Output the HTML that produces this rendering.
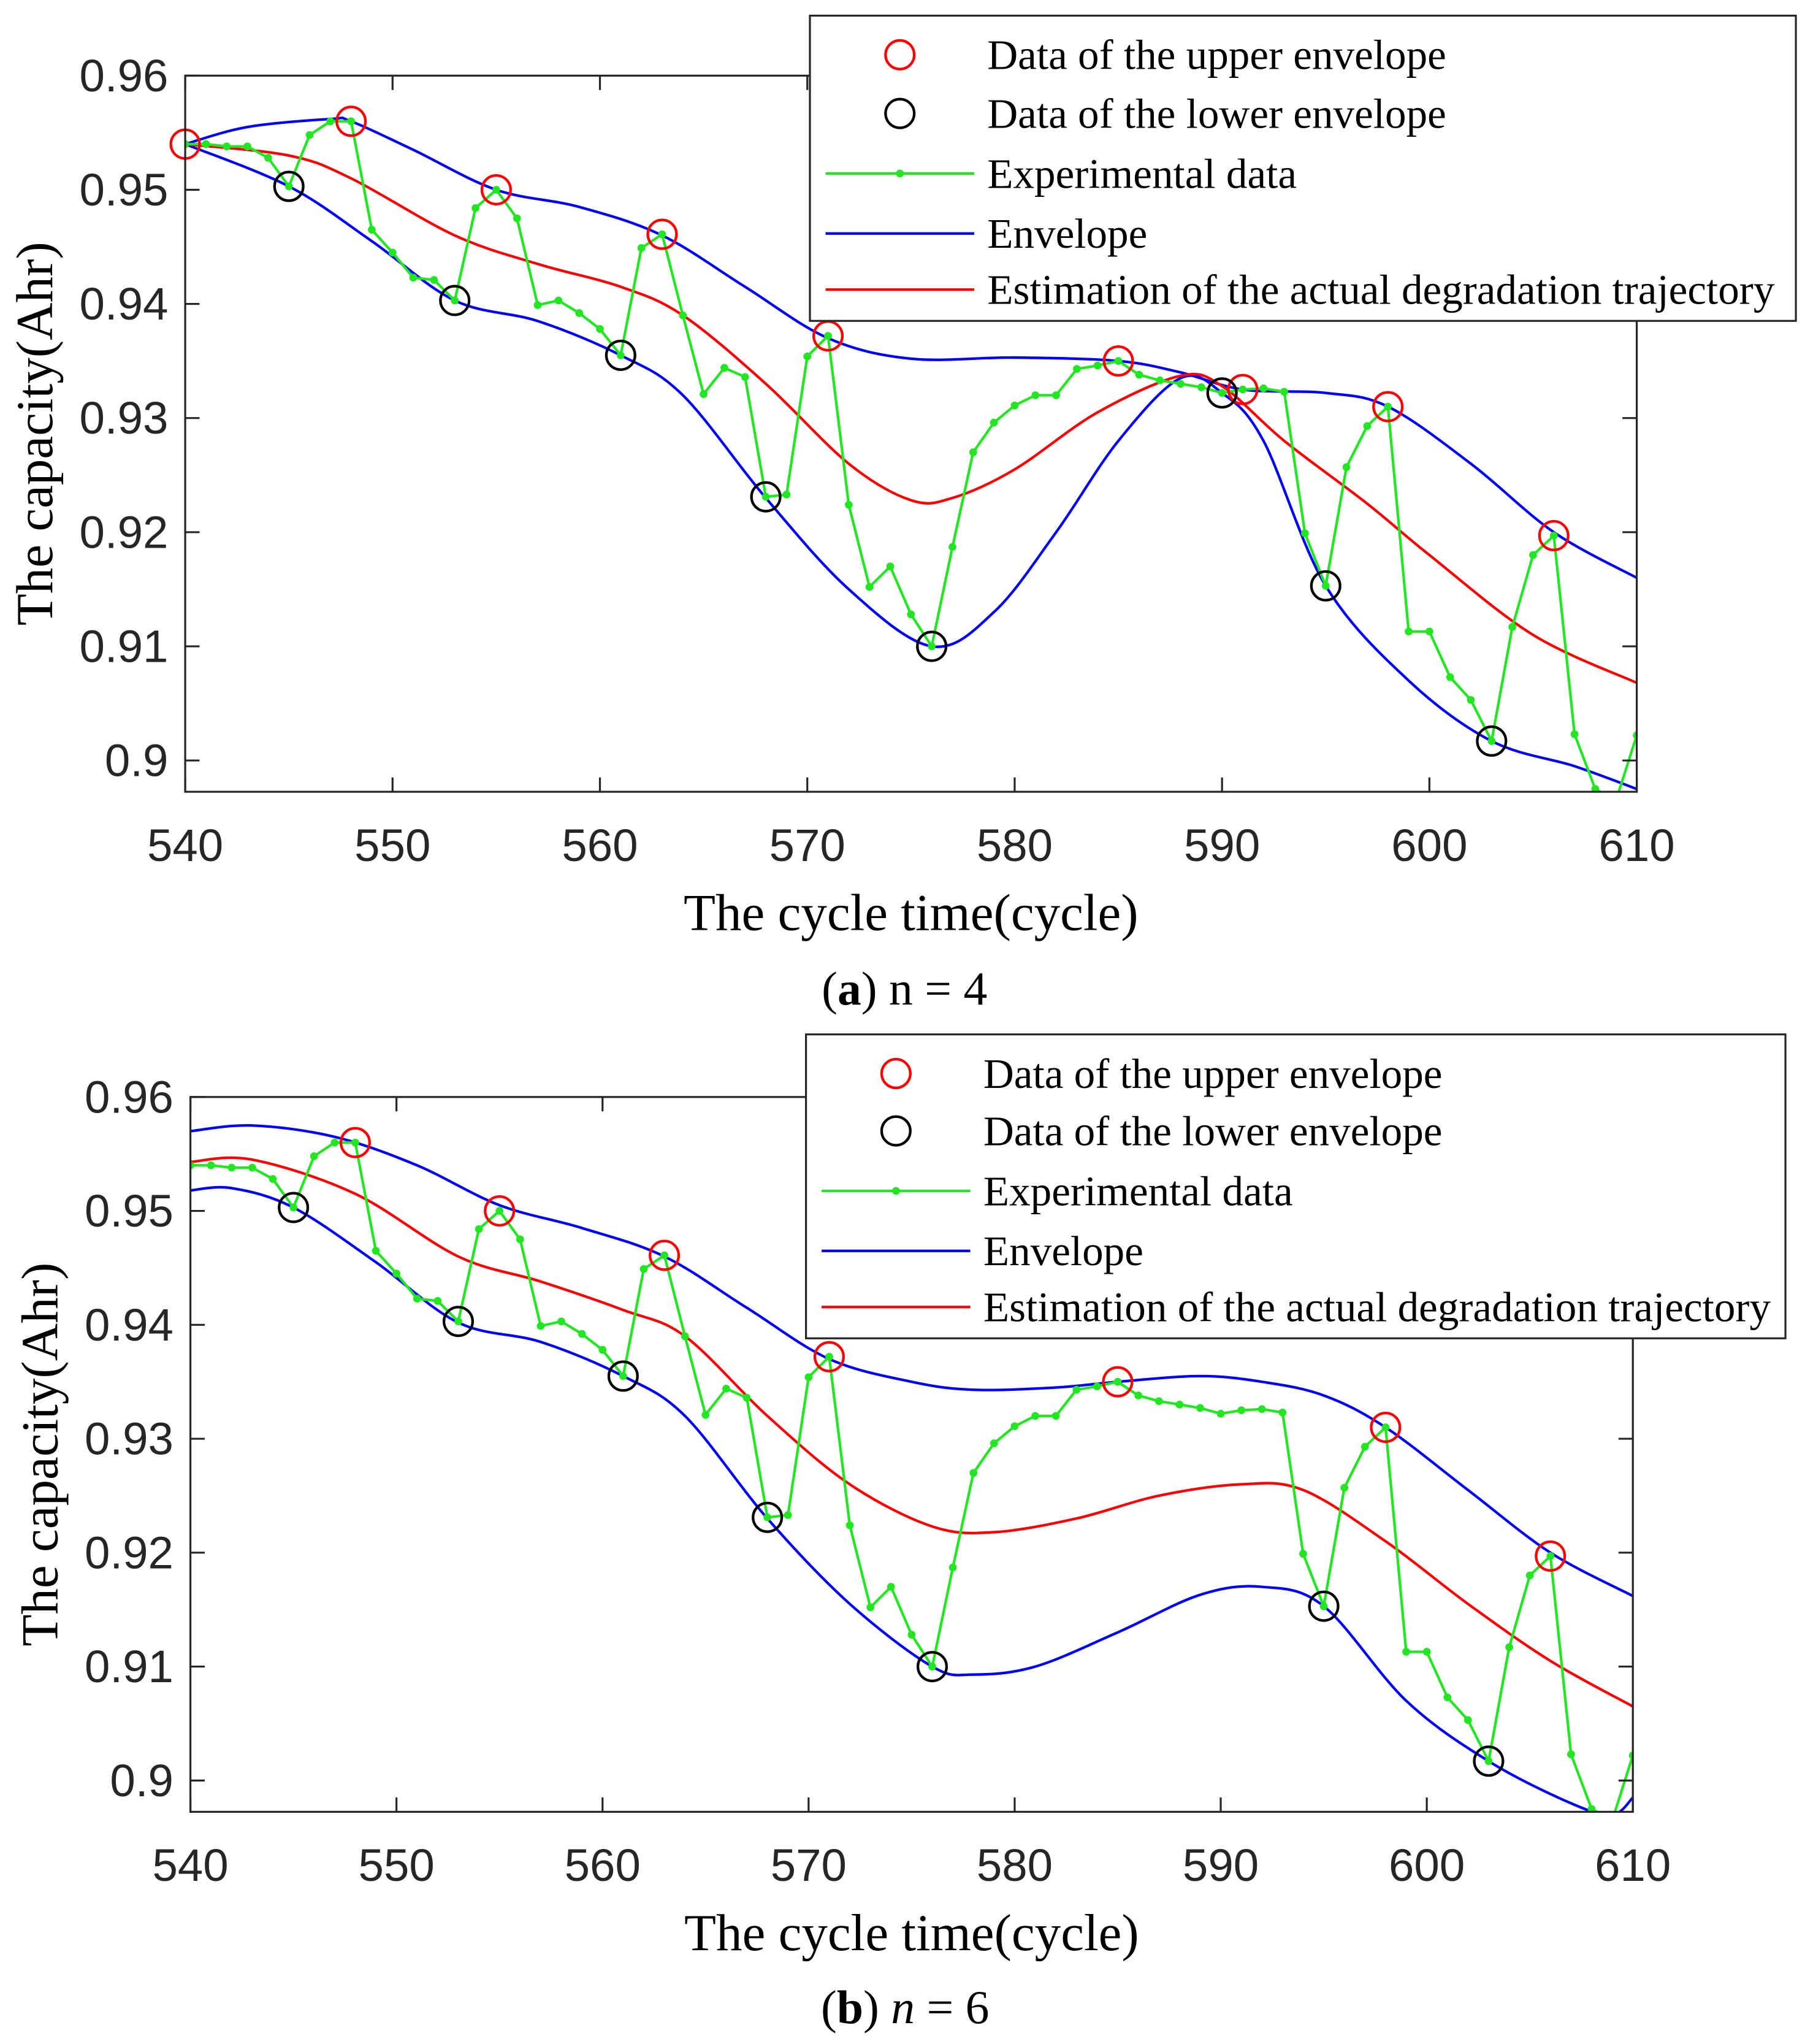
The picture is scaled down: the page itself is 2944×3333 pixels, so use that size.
<!DOCTYPE html>
<html><head><meta charset="utf-8"><style>
html,body{margin:0;padding:0;background:#fff;}
svg{display:block;}
.tick{font-family:"Liberation Sans",Arial,sans-serif;font-size:35px;fill:#262626;}
.ser{font-family:"Liberation Serif","Times New Roman",serif;fill:#000;}
</style></head><body>
<svg id="fig" xmlns="http://www.w3.org/2000/svg" width="2944" height="3333" viewBox="0 0 1384 1567" preserveAspectRatio="none"></svg>
<script>
const cycles = [];
for (let c = 540; c <= 610; c++) cycles.push(c);
const capacity = [0.954,0.954,0.9538,0.9538,0.9528,0.9503,0.9548,0.956,0.956,0.9465,0.9445,0.9423,0.9421,0.9403,0.9484,0.950,0.9475,0.9399,0.9403,0.9392,0.9378,0.9355,0.9449,0.9461,0.939,0.9321,0.9344,0.9336,0.9231,0.9233,0.9354,0.9372,0.9224,0.9152,0.917,0.9128,0.910,0.9187,0.927,0.9296,0.9311,0.932,0.932,0.9343,0.9346,0.935,0.9338,0.9333,0.933,0.9327,0.9322,0.9325,0.9326,0.9323,0.9199,0.9153,0.9257,0.9293,0.931,0.9113,0.9113,0.9073,0.9053,0.9017,0.9117,0.918,0.9197,0.9023,0.8975,0.8965,0.9022];
const upperA = [540,548,555,563,571,585,591,598,606];
const lowerA = [545,553,561,568,576,590,595,603];
const upperB = [548,555,563,571,585,598,606];
const lowerB = [545,553,561,568,576,595,603];
const envUpAx = [540,543,547,548,551,555,559,563,567,571,575,580,585,588,591,595,598,602,606,610];
const envUpAy = [.954,.9555,.9562,.956,.9535,.950,.9485,.946,.9415,.937,.9352,.9353,.935,.934,.9325,.9322,.931,.926,.920,.916];
const envLoAx = [540,545,549,553,557,561,564,568,572,576,579,582,585,588,590,592,595,599,603,607,610];
const envLoAy = [.954,.9503,.9455,.9403,.9385,.9355,.932,.923,.915,.910,.913,.920,.928,.9335,.9322,.928,.9153,.907,.9017,.8995,.8975];
const estAx = [540,545,548,553,557,561,564,568,572,575,577,580,584,588,590,593,597,600,605,610];
const estAy = [.954,.953,.951,.946,.9435,.9415,.939,.933,.926,.9228,.923,.9255,.9305,.9337,.9328,.928,.9225,.918,.911,.9068];
const envUpBx = [540,543,547,551,555,559,563,567,571,575,578,582,585,589,592,595,598,602,606,610];
const envUpBy = [.957,.9575,.9565,.954,.9505,.9485,.946,.9415,.937,.935,.9343,.9345,.935,.9355,.935,.9338,.931,.9255,.920,.9162];
const envLoBx = [540,542,545,549,553,557,561,564,568,572,576,578,581,585,589,592,595,599,603,607,609,610];
const envLoBy = [.9518,.952,.9503,.9455,.9402,.9385,.9355,.932,.923,.9155,.910,.9093,.910,.913,.9163,.917,.9153,.907,.9017,.898,.897,.8985];
const estBx = [540,543,548,553,557,561,564,568,572,576,579,583,587,591,594,598,602,606,610];
const estBy = [.9543,.9545,.9515,.946,.9438,.9413,.939,.932,.926,.9223,.9218,.923,.925,.926,.9255,.921,.9155,.9105,.9065];
const xTicks = [540,550,560,570,580,590,600,610];
const yTicks = [0.90,0.91,0.92,0.93,0.94,0.95,0.96];
const yTickLabels = ["0.9","0.91","0.92","0.93","0.94","0.95","0.96"];
const legendLabels = ["Data of the upper envelope","Data of the lower envelope","Experimental data","Envelope","Estimation of the actual degradation trajectory"];

const NS = "http://www.w3.org/2000/svg";
const svg = document.getElementById('fig');
function mk(tag, attrs, parent){ const e=document.createElementNS(NS,tag); for(const k in attrs) e.setAttribute(k,attrs[k]); (parent||svg).appendChild(e); return e; }
function smooth(pts){
  let d = `M${pts[0][0]},${pts[0][1]}`;
  for(let i=0;i<pts.length-1;i++){
    const p0=pts[Math.max(0,i-1)],p1=pts[i],p2=pts[i+1],p3=pts[Math.min(pts.length-1,i+2)];
    const c1=[p1[0]+(p2[0]-p0[0])/6,p1[1]+(p2[1]-p0[1])/6];
    const c2=[p2[0]-(p3[0]-p1[0])/6,p2[1]-(p3[1]-p1[1])/6];
    d+=` C${c1[0]},${c1[1]} ${c2[0]},${c2[1]} ${p2[0]},${p2[1]}`;
  }
  return d;
}
function panel(cfg){
  const {id,x0,x1,yTop,y960,y900,yBot,up,lo,eu,el,es,leg,cap,capItalic} = cfg;
  const g = mk('g',{});
  
  
  const X = c => x0 + (c-540)/70*(x1-x0);
  const Y = v => y960 + (0.96-v)/0.06*(y900-y960);
  const cp = mk('clipPath',{id:'clip-'+id},g);
  mk('rect',{x:x0,y:yTop,width:x1-x0,height:yBot-yTop},cp);
  mk('rect',{x:x0,y:yTop,width:x1-x0,height:yBot-yTop,fill:'#fff'},g);
  const plot = mk('g',{'clip-path':`url(#clip-${id})`},g);
  const blueU = mk('path',{d:smooth(eu[0].map((c,i)=>[X(c),Y(eu[1][i])])),fill:'none',stroke:'#0000ff','stroke-width':2},plot);
  
  
  const blueL = mk('path',{d:smooth(el[0].map((c,i)=>[X(c),Y(el[1][i])])),fill:'none',stroke:'#0000ff','stroke-width':2},plot);
  
  
  const red = mk('path',{d:smooth(es[0].map((c,i)=>[X(c),Y(es[1][i])])),fill:'none',stroke:'#ff0000','stroke-width':2},plot);
  
  
  const green = mk('polyline',{points:cycles.map((c,i)=>`${X(c)},${Y(capacity[i])}`).join(' '),fill:'none',stroke:'#22e622','stroke-width':2},plot);
  
  
  cycles.forEach((c,i)=>{
    const p = mk('circle',{cx:X(c),cy:Y(capacity[i]),r:3,fill:'#22e622'},plot);
    
    
  });
  up.forEach(c=>{
    const p = mk('circle',{cx:X(c),cy:Y(capacity[c-540]),r:11,fill:'none',stroke:'#ff0000','stroke-width':2},g);
    
    
  });
  lo.forEach(c=>{
    const p = mk('circle',{cx:X(c),cy:Y(capacity[c-540]),r:11,fill:'none',stroke:'#000','stroke-width':2},g);
    
    
  });
  const box = mk('rect',{x:x0,y:yTop,width:x1-x0,height:yBot-yTop,fill:'none',stroke:'#262626','stroke-width':1.5},g);
  
  
  xTicks.forEach(c=>{
    const x=X(c);
    mk('line',{x1:x,y1:yBot,x2:x,y2:yBot-11,stroke:'#262626','stroke-width':1.5},g);
    mk('line',{x1:x,y1:yTop,x2:x,y2:yTop+11,stroke:'#262626','stroke-width':1.5},g);
    const t = mk('text',{x:x,y:yBot+53,'text-anchor':'middle',class:'tick'},g);
    t.textContent = c;
    
    
  });
  yTicks.forEach((v,i)=>{
    const y=Y(v);
    mk('line',{x1:x0,y1:y,x2:x0+11,y2:y,stroke:'#262626','stroke-width':1.5},g);
    mk('line',{x1:x1,y1:y,x2:x1-11,y2:y,stroke:'#262626','stroke-width':1.5},g);
    const t = mk('text',{x:x0-13,y:y+12,'text-anchor':'end',class:'tick'},g);
    t.textContent = yTickLabels[i];
    
    
  });
  const xt = mk('text',{x:(x0+x1)/2,y:yBot+106,'text-anchor':'middle',class:'ser','font-size':40},g);
  xt.textContent = 'The cycle time(cycle)';
  
  
  const yc=(yTop+yBot)/2;
  const yx = x0-115;
  const yt = mk('text',{x:yx,y:yc+13,'text-anchor':'middle',class:'ser','font-size':40,transform:`rotate(-90 ${yx} ${yc})`},g);
  yt.textContent = 'The capacity(Ahr)';
  
  
  const lg = mk('g',{},g);
  
  
  mk('rect',{x:leg.x,y:leg.y,width:leg.w,height:leg.h,fill:'#fff',stroke:'#262626','stroke-width':1.5},lg);
  const sx = leg.x+69, lx1 = leg.x+12, lx2 = leg.x+126, tx = leg.x+136;
  leg.rows.forEach((ry,i)=>{
    const e = mk('g',{},lg);
    
    
    if(i===0) mk('circle',{cx:sx,cy:ry,r:11,fill:'none',stroke:'#ff0000','stroke-width':2},e);
    if(i===1) mk('circle',{cx:sx,cy:ry,r:11,fill:'none',stroke:'#000','stroke-width':2},e);
    if(i===2){ mk('line',{x1:lx1,y1:ry,x2:lx2,y2:ry,stroke:'#22e622','stroke-width':2},e); mk('circle',{cx:sx,cy:ry,r:3,fill:'#22e622'},e); }
    if(i===3) mk('line',{x1:lx1,y1:ry,x2:lx2,y2:ry,stroke:'#0000ff','stroke-width':2},e);
    if(i===4) mk('line',{x1:lx1,y1:ry,x2:lx2,y2:ry,stroke:'#ff0000','stroke-width':2},e);
    const t = mk('text',{x:tx,y:ry+11,class:'ser','font-size':32.5},e);
    t.textContent = legendLabels[i];
  });
  const c = mk('text',{x:(x0+x1)/2-5,y:cap,'text-anchor':'middle',class:'ser','font-size':36.5},g);
  
  
  c.innerHTML = `(<tspan font-weight="bold">${id==='panel-a'?'a':'b'}</tspan>) ${capItalic?'<tspan font-style="italic">n</tspan>':'n'} = ${id==='panel-a'?4:6}`;
}
panel({id:'panel-a',x0:142,x1:1255,yTop:58,y960:58,y900:583,yBot:607,up:upperA,lo:lowerA,
  eu:[envUpAx,envUpAy],el:[envLoAx,envLoAy],es:[estAx,estAy],
  leg:{x:621,y:12,w:756,h:234,rows:[42,87,133,179,222]},cap:770,capItalic:false});
panel({id:'panel-b',x0:146,x1:1252,yTop:841,y960:841,y900:1365,yBot:1389,up:upperB,lo:lowerB,
  eu:[envUpBx,envUpBy],el:[envLoBx,envLoBy],es:[estBx,estBy],
  leg:{x:618,y:793,w:751,h:233,rows:[823,867,913,959,1002]},cap:1551,capItalic:true});
</script>
</body></html>
